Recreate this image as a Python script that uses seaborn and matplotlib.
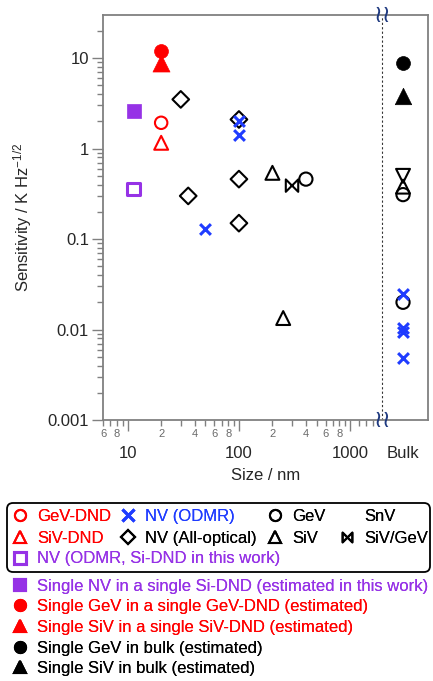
import numpy as np
import pandas as pd
import matplotlib
matplotlib.use("Agg")
import matplotlib.pyplot as plt
import seaborn as sns
from matplotlib.path import Path
from matplotlib.lines import Line2D
from matplotlib.patches import FancyBboxPatch
from matplotlib.transforms import IdentityTransform, blended_transform_factory
from matplotlib.ticker import FixedLocator, FixedFormatter

# ---------------- data ----------------
BULK = "Bulk"
gev_dnd_size = [20]
gev_dnd_sens = [1.93]
siv_dnd_size = [20]
siv_dnd_sens = [1.16]
nv_odmr_size = [50, 100, 100, BULK, BULK, BULK, BULK]
nv_odmr_sens = [0.13, 2.0, 1.4, 0.025, 0.0105, 0.0093, 0.0049]
nv_allopt_size = [30, 35, 100, 100, 100]
nv_allopt_sens = [3.5, 0.30, 2.1, 0.46, 0.15]
gev_size = [400, BULK, BULK]
gev_sens = [0.46, 0.31, 0.020]
siv_size = [200, 250, BULK]
siv_sens = [0.54, 0.0134, 0.38]
snv_size = [BULK]
snv_sens = [0.50]
sivgev_size = [300]
sivgev_sens = [0.39]
nv_sidnd_size = [11.3]
nv_sidnd_sens = [0.36]
est_nv_sidnd_size = [11.3]
est_nv_sidnd_sens = [2.6]
est_gev_dnd_size = [20]
est_gev_dnd_sens = [12]
est_siv_dnd_size = [20]
est_siv_dnd_sens = [8.9]
est_gev_bulk_size = [BULK]
est_gev_bulk_sens = [8.9]
est_siv_bulk_size = [BULK]
est_siv_bulk_sens = [3.85]

x_major_vals = [10, 100, 1000]
x_major_labels = ["10", "100", "1000"]
y_major_vals = [0.001, 0.01, 0.1, 1, 10]
y_major_labels = ["0.001", "0.01", "0.1", "1", "10"]

# ---------------- style ----------------
sns.set_style("ticks")
plt.rcParams["font.family"] = ["Liberation Sans", "DejaVu Sans"]
plt.rcParams["mathtext.default"] = "regular"

RED = "#ff0000"
BLUE = "#1f3cff"
PURPLE = "#9632e6"
BLACK = "#000000"
GRAY = "#808080"

BULK_POS = 2985.0   # position of the "Bulk" column on the log axis
BREAK_POS = 1936.0  # axis break position


def pos(sizes):
    return [BULK_POS if s == BULK else float(s) for s in sizes]


bowtie = Path([(-1, -1), (-1, 1), (1, -1), (1, 1), (-1, -1)],
              [Path.MOVETO, Path.LINETO, Path.LINETO, Path.LINETO, Path.CLOSEPOLY])

fig = plt.figure(figsize=(4.33, 6.81), dpi=100)
ax = fig.add_axes([103 / 433, 1 - 420 / 681, (428 - 103) / 433, (420 - 15) / 681])
ax.set_xscale("log")
ax.set_yscale("log")


def open_pts(sizes, sens, marker, color, s, lw=1.5):
    sns.scatterplot(x=pos(sizes), y=sens, marker=marker, s=s, facecolor="none",
                    edgecolor=color, linewidth=lw, ax=ax, zorder=3, legend=False)


def filled_pts(sizes, sens, marker, color, s):
    sns.scatterplot(x=pos(sizes), y=sens, marker=marker, s=s, color=color,
                    edgecolor=color, linewidth=0.5, ax=ax, zorder=3, legend=False)


open_pts(nv_allopt_size, nv_allopt_sens, "D", BLACK, 72)
open_pts(gev_dnd_size, gev_dnd_sens, "o", RED, 80)
open_pts(siv_dnd_size, siv_dnd_sens, "^", RED, 100)
open_pts(gev_size, gev_sens, "o", BLACK, 90)
open_pts(siv_size, siv_sens, "^", BLACK, 100)
open_pts(snv_size, snv_sens, "v", BLACK, 100)
open_pts(sivgev_size, sivgev_sens, bowtie, BLACK, 80)
open_pts(nv_sidnd_size, nv_sidnd_sens, "s", PURPLE, 80, lw=2.2)
sns.scatterplot(x=pos(nv_odmr_size), y=nv_odmr_sens, marker="x", s=60, color=BLUE,
                linewidth=2.2, ax=ax, zorder=4, legend=False)
filled_pts(est_nv_sidnd_size, est_nv_sidnd_sens, "s", PURPLE, 95)
filled_pts(est_gev_dnd_size, est_gev_dnd_sens, "o", RED, 100)
filled_pts(est_siv_dnd_size, est_siv_dnd_sens, "^", RED, 150)
filled_pts(est_gev_bulk_size, est_gev_bulk_sens, "o", BLACK, 100)
filled_pts(est_siv_bulk_size, est_siv_bulk_sens, "^", BLACK, 140)

ax.set_xlim(6, 5006)
ax.set_ylim(0.001, 30)

# axis break
ax.axvline(BREAK_POS, color="#333333", lw=0.8, ls=(0, (2, 2)), zorder=1)
bt = blended_transform_factory(ax.transData, ax.transAxes)
for yy in (0.0, 1.0):
    ax.text(BREAK_POS, yy, "\u2240\u2240", transform=bt, ha="center", va="center",
            fontsize=17, color="#1f3a80", clip_on=False, zorder=5,
            family=["DejaVu Sans"])

# ticks
ax.xaxis.set_major_locator(FixedLocator(x_major_vals + [BULK_POS]))
ax.xaxis.set_major_formatter(FixedFormatter(x_major_labels + ["Bulk"]))
minor_vals, minor_labels = [], []
for m in [6, 7, 8, 9]:
    minor_vals.append(m)
    minor_labels.append(str(m) if m in (6, 8) else "")
for dec in [10, 100]:
    for m in range(2, 10):
        minor_vals.append(m * dec)
        minor_labels.append(str(m) if m in (2, 4, 6, 8) else "")
for v in [1200, 1400, 1600]:
    minor_vals.append(v)
    minor_labels.append("")
ax.xaxis.set_minor_locator(FixedLocator(minor_vals))
ax.xaxis.set_minor_formatter(FixedFormatter(minor_labels))
ax.xaxis.get_major_ticks()[3].tick1line.set_visible(False)

ax.yaxis.set_major_locator(FixedLocator(y_major_vals))
ax.yaxis.set_major_formatter(FixedFormatter(y_major_labels))
ymin = [m * d for d in [0.001, 0.01, 0.1, 1, 10] for m in range(2, 10) if m * d < 30]
ax.yaxis.set_minor_locator(FixedLocator(ymin))
ax.yaxis.set_minor_formatter(FixedFormatter([""] * len(ymin)))

ax.tick_params(axis="x", which="major", length=8, width=1, color=GRAY,
               labelsize=12, pad=11, direction="out")
ax.tick_params(axis="x", which="minor", length=4.5, width=1, color=GRAY,
               labelsize=8, labelcolor="#6a6a6a", pad=2, direction="out")
ax.tick_params(axis="y", which="major", length=8, width=1, color=GRAY,
               labelsize=12, pad=2, direction="out")
ax.tick_params(axis="y", which="minor", length=4.5, width=1, color=GRAY,
               direction="out")
for sp in ax.spines.values():
    sp.set_color(GRAY)
    sp.set_linewidth(1.3)

ax.set_xlabel("Size / nm", fontsize=12)
ax.set_ylabel("Sensitivity / K Hz$^{-1/2}$", fontsize=12)
ax.xaxis.set_label_coords(0.5, -0.118)
ax.yaxis.set_label_coords(-0.212, 0.5)


# ---------------- legends ----------------
def H(marker, color, fill=False, ms=8, mew=1.5):
    if marker is None:
        return Line2D([], [], ls="none", marker="None")
    return Line2D([], [], ls="none", marker=marker, markersize=ms,
                  markerfacecolor=color if fill else "none",
                  markeredgecolor=color, markeredgewidth=mew, color=color)


LFS = 12
W, Hh = 433.0, 681.0


def leg(handles, labels, colors, x, ycenter, spacing=0.40):
    lg = fig.legend(handles, labels, loc="center left",
                    bbox_to_anchor=(x / W, 1 - ycenter / Hh),
                    bbox_transform=fig.transFigure, frameon=False,
                    borderpad=0, borderaxespad=0, handlelength=1.0,
                    handletextpad=0.5, labelspacing=spacing, fontsize=LFS,
                    labelcolor=colors)
    fig.add_artist(lg)
    return lg


c12 = (516.7 + 538.0) / 2
leg([H("o", RED), H("^", RED)], ["GeV-DND", "SiV-DND"], [RED, RED], 12, c12)
leg([H("x", BLUE, mew=2.2), H("D", BLACK, ms=7)], ["NV (ODMR)", "NV (All-optical)"],
    [BLUE, BLACK], 120, c12)
leg([H("o", BLACK), H("^", BLACK)], ["GeV", "SiV"], [BLACK, BLACK], 267, c12)
leg([H(None, BLACK), H(bowtie, BLACK, ms=7)], ["SnV", "SiV/GeV"], [BLACK, BLACK], 339, c12)
leg([H("s", PURPLE, mew=2.2)], ["NV (ODMR, Si-DND in this work)"], [PURPLE], 12, 559)

leg([H("s", PURPLE, True, ms=8), H("o", RED, True, ms=8), H("^", RED, True, ms=8),
     H("o", BLACK, True, ms=8), H("^", BLACK, True, ms=8)],
    ["Single NV in a single Si-DND (estimated in this work)",
     "Single GeV in a single GeV-DND (estimated)",
     "Single SiV in a single SiV-DND (estimated)",
     "Single GeV in bulk (estimated)",
     "Single SiV in bulk (estimated)"],
    [PURPLE, RED, RED, BLACK, BLACK], 12, 627.5, spacing=0.34)

box = FancyBboxPatch((7, Hh - 572), 423, 69, boxstyle="round,pad=0,rounding_size=6",
                     transform=IdentityTransform(), fc="none", ec="black", lw=1.3)
fig.add_artist(box)

fig.savefig("out.png", dpi=100)
